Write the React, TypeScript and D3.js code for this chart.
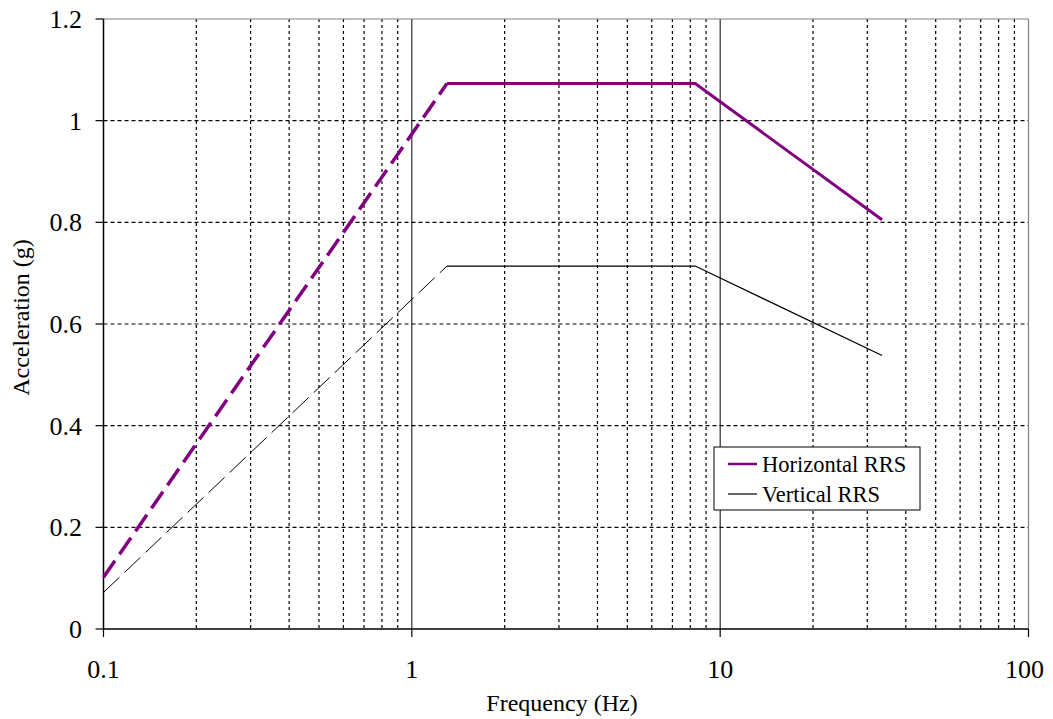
import React from "react";
import * as d3 from "d3";

const xTicks = [0.1, 1, 10, 100];
const xTickLabels = ["0.1", "1", "10", "100"];
const yTicks = [0, 0.2, 0.4, 0.6, 0.8, 1, 1.2];
const yTickLabels = ["0", "0.2", "0.4", "0.6", "0.8", "1", "1.2"];

const horizDashedFreq = [0.1, 1.3];
const horizDashedAcc = [0.102, 1.073];
const horizSolidFreq = [1.3, 8.3, 33.5];
const horizSolidAcc = [1.073, 1.073, 0.805];

const vertDashedFreq = [0.1, 1.3];
const vertDashedAcc = [0.072, 0.714];
const vertSolidFreq = [1.3, 8.3, 33.5];
const vertSolidAcc = [0.714, 0.714, 0.538];

const W = 1053, H = 719;
const left = 103.5, right = 1028.5, top = 19, bottom = 629;

export default function App() {
  const x = d3.scaleLog().domain([0.1, 100]).range([left, right]);
  const y = d3.scaleLinear().domain([0, 1.2]).range([bottom, top]);
  const line = d3.line<[number, number]>().x(d => x(d[0])).y(d => y(d[1]));
  const pts = (f: number[], a: number[]) => f.map((v, i) => [v, a[i]] as [number, number]);

  const minor: number[] = [];
  for (let d = 0.1; d < 100; d *= 10) {
    for (let k = 2; k <= 9; k++) minor.push(+(d * k).toPrecision(3));
  }
  const font = "'Liberation Serif', 'Times New Roman', serif";

  return (
    <svg width={W} height={H} style={{ position: "absolute", left: 0, top: 0, background: "#fff" }}>
      <rect x={0} y={0} width={W} height={H} fill="#fff" />
      {minor.map(m => (
        <line key={"m" + m} x1={x(m)} x2={x(m)} y1={top} y2={bottom} stroke="#000" strokeWidth={1.2} strokeDasharray="3,3" />
      ))}
      {yTicks.filter(t => t > 0 && t < 1.2).map(t => (
        <line key={"h" + t} x1={left} x2={right} y1={y(t)} y2={y(t)} stroke="#000" strokeWidth={1.2} strokeDasharray="4,3" />
      ))}
      {[1, 10].map(t => (
        <line key={"M" + t} x1={x(t)} x2={x(t)} y1={top} y2={bottom} stroke="#000" strokeWidth={1} />
      ))}
      <line x1={left} x2={right} y1={top} y2={top} stroke="#808080" strokeWidth={1.2} />
      <line x1={right} x2={right} y1={top} y2={bottom} stroke="#808080" strokeWidth={1.2} />
      <line x1={left} x2={left} y1={top} y2={bottom} stroke="#000" strokeWidth={1.5} />
      <line x1={left} x2={right} y1={bottom} y2={bottom} stroke="#000" strokeWidth={1.5} />
      {yTicks.map(t => (
        <line key={"yt" + t} x1={left - 8} x2={left} y1={y(t)} y2={y(t)} stroke="#000" strokeWidth={1.2} />
      ))}
      {xTicks.map(t => (
        <line key={"xt" + t} x1={x(t)} x2={x(t)} y1={bottom} y2={bottom + 8} stroke="#000" strokeWidth={1.2} />
      ))}
      {yTicks.map((t, i) => (
        <text key={"yl" + t} x={82} y={y(t)} dy="0.35em" textAnchor="end" fontFamily={font} fontSize={26} fill="#000">{yTickLabels[i]}</text>
      ))}
      {xTicks.map((t, i) => (
        <text key={"xl" + t} x={x(t) - (i === 3 ? 4 : 0)} y={669} dy="0.35em" textAnchor="middle" fontFamily={font} fontSize={26} fill="#000">{xTickLabels[i]}</text>
      ))}
      <text x={562} y={711} textAnchor="middle" fontFamily={font} fontSize={24} fill="#000">Frequency (Hz)</text>
      <text transform={`translate(21,${317.5}) rotate(-90)`} dy="0.35em" textAnchor="middle" fontFamily={font} fontSize={24} fill="#000">Acceleration (g)</text>

      <path d={line(pts(vertDashedFreq, vertDashedAcc)) || ""} fill="none" stroke="#000" strokeWidth={1} strokeDasharray="22,7" />
      <path d={line(pts(vertSolidFreq, vertSolidAcc)) || ""} fill="none" stroke="#000" strokeWidth={1.2} />
      <path d={line(pts(horizDashedFreq, horizDashedAcc)) || ""} fill="none" stroke="#800080" strokeWidth={3.5} strokeDasharray="20,8" />
      <path d={line(pts(horizSolidFreq, horizSolidAcc)) || ""} fill="none" stroke="#800080" strokeWidth={3} />

      <rect x={714} y={447} width={206} height={63} fill="#fff" stroke="#000" strokeWidth={1} />
      <line x1={728} x2={757} y1={464} y2={464} stroke="#800080" strokeWidth={2.5} />
      <text x={762} y={464} dy="0.35em" fontFamily={font} fontSize={22.5} fill="#000">Horizontal RRS</text>
      <line x1={728} x2={757} y1={494} y2={494} stroke="#000" strokeWidth={1.2} />
      <text x={762} y={494} dy="0.35em" fontFamily={font} fontSize={22.5} fill="#000">Vertical RRS</text>
    </svg>
  );
}
